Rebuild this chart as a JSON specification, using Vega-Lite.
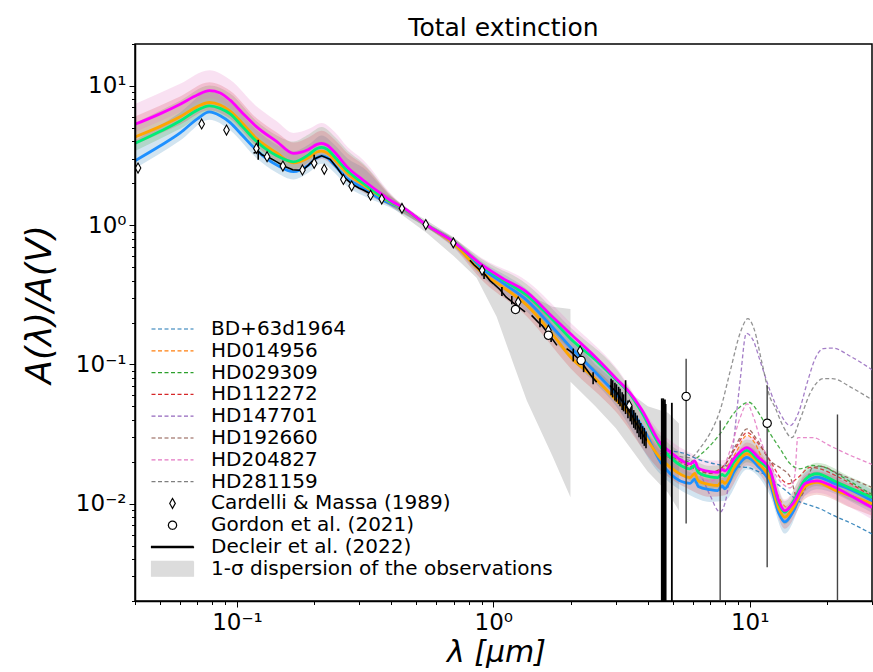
{
  "$schema": "https://vega.github.io/schema/vega-lite/v6.json",
  "width": 737,
  "height": 557,
  "autosize": {"type": "none"},
  "padding": {"left": 135, "top": 44, "right": 1, "bottom": 71},
  "background": "white",
  "title": {"text": "Total extinction", "font": "DejaVu Sans", "fontSize": 25, "fontWeight": "normal", "color": "black", "anchor": "middle", "offset": 5, "dy": 13},
  "config": {"font": "DejaVu Sans", "view": {"stroke": "black", "strokeWidth": 1.5}},
  "datasets": {
    "models": [
      {"lam": 0.04, "blue": 2.9, "orange": 4.3, "green": 3.87, "magenta": 5.3},
      {"lam": 0.05, "blue": 3.7, "orange": 5.1, "green": 4.7, "magenta": 6.3},
      {"lam": 0.06, "blue": 4.6, "orange": 6.0, "green": 5.6, "magenta": 7.4},
      {"lam": 0.07, "blue": 5.8, "orange": 7.1, "green": 6.7, "magenta": 8.6},
      {"lam": 0.078, "blue": 6.5, "orange": 7.6, "green": 7.2, "magenta": 9.25},
      {"lam": 0.086, "blue": 6.1, "orange": 7.3, "green": 6.9, "magenta": 8.9},
      {"lam": 0.094, "blue": 5.45, "orange": 6.6, "green": 6.3, "magenta": 7.9},
      {"lam": 0.105, "blue": 4.4, "orange": 5.4, "green": 5.1, "magenta": 6.4},
      {"lam": 0.119, "blue": 3.46, "orange": 4.2, "green": 4.0, "magenta": 5.1},
      {"lam": 0.143, "blue": 2.7, "orange": 3.3, "green": 3.15, "magenta": 3.98},
      {"lam": 0.166, "blue": 2.42, "orange": 2.8, "green": 2.85, "magenta": 3.28},
      {"lam": 0.19, "blue": 2.7, "orange": 3.05, "green": 3.2, "magenta": 3.5},
      {"lam": 0.205, "blue": 3.05, "orange": 3.35, "green": 3.55, "magenta": 3.8},
      {"lam": 0.214, "blue": 3.14, "orange": 3.4, "green": 3.62, "magenta": 3.87},
      {"lam": 0.225, "blue": 3.05, "orange": 3.3, "green": 3.5, "magenta": 3.75},
      {"lam": 0.24, "blue": 2.7, "orange": 2.95, "green": 3.1, "magenta": 3.35},
      {"lam": 0.27, "blue": 2.15, "orange": 2.35, "green": 2.45, "magenta": 2.6},
      {"lam": 0.31, "blue": 1.85, "orange": 1.95, "green": 2.0, "magenta": 2.11},
      {"lam": 0.35, "blue": 1.6, "orange": 1.68, "green": 1.7, "magenta": 1.78},
      {"lam": 0.4, "blue": 1.42, "orange": 1.45, "green": 1.46, "magenta": 1.49},
      {"lam": 0.45, "blue": 1.29, "orange": 1.3, "green": 1.31, "magenta": 1.32},
      {"lam": 0.55, "blue": 1.0, "orange": 1.0, "green": 1.0, "magenta": 1.0},
      {"lam": 0.7, "blue": 0.75, "orange": 0.74, "green": 0.76, "magenta": 0.76},
      {"lam": 0.9, "blue": 0.49, "orange": 0.46, "green": 0.51, "magenta": 0.52},
      {"lam": 1.1, "blue": 0.38, "orange": 0.355, "green": 0.4, "magenta": 0.41},
      {"lam": 1.35, "blue": 0.289, "orange": 0.266, "green": 0.314, "magenta": 0.331},
      {"lam": 1.7, "blue": 0.185, "orange": 0.165, "green": 0.21, "magenta": 0.22},
      {"lam": 2.0, "blue": 0.133, "orange": 0.113, "green": 0.153, "magenta": 0.166},
      {"lam": 2.5, "blue": 0.088, "orange": 0.079, "green": 0.108, "magenta": 0.113},
      {"lam": 3.0, "blue": 0.062, "orange": 0.056, "green": 0.078, "magenta": 0.08},
      {"lam": 3.4, "blue": 0.048, "orange": 0.044, "green": 0.062, "magenta": 0.063},
      {"lam": 3.8, "blue": 0.036, "orange": 0.033, "green": 0.045, "magenta": 0.047},
      {"lam": 4.5, "blue": 0.0198, "orange": 0.021, "green": 0.0255, "magenta": 0.027},
      {"lam": 4.9, "blue": 0.0164, "orange": 0.0182, "green": 0.0215, "magenta": 0.0235},
      {"lam": 5.85, "blue": 0.014, "orange": 0.0154, "green": 0.0178, "magenta": 0.0193},
      {"lam": 6.1, "blue": 0.015, "orange": 0.0165, "green": 0.0188, "magenta": 0.0203},
      {"lam": 6.3, "blue": 0.0133, "orange": 0.0146, "green": 0.0168, "magenta": 0.018},
      {"lam": 7.0, "blue": 0.0126, "orange": 0.0137, "green": 0.0156, "magenta": 0.017},
      {"lam": 7.5, "blue": 0.0124, "orange": 0.0135, "green": 0.0154, "magenta": 0.0168},
      {"lam": 7.8, "blue": 0.0134, "orange": 0.0145, "green": 0.0162, "magenta": 0.0176},
      {"lam": 8.0, "blue": 0.0128, "orange": 0.014, "green": 0.0158, "magenta": 0.0172},
      {"lam": 8.7, "blue": 0.017, "orange": 0.0183, "green": 0.02, "magenta": 0.0212},
      {"lam": 9.75, "blue": 0.0215, "orange": 0.0229, "green": 0.0241, "magenta": 0.0253},
      {"lam": 10.8, "blue": 0.0185, "orange": 0.0195, "green": 0.0205, "magenta": 0.0215},
      {"lam": 12.0, "blue": 0.014, "orange": 0.015, "green": 0.017, "magenta": 0.0175},
      {"lam": 13.0, "blue": 0.0085, "orange": 0.0092, "green": 0.01, "magenta": 0.0104},
      {"lam": 13.7, "blue": 0.0074, "orange": 0.008, "green": 0.0087, "magenta": 0.0089},
      {"lam": 14.8, "blue": 0.0088, "orange": 0.0094, "green": 0.0104, "magenta": 0.0101},
      {"lam": 16.5, "blue": 0.014, "orange": 0.0133, "green": 0.015, "magenta": 0.014},
      {"lam": 18.3, "blue": 0.0155, "orange": 0.0142, "green": 0.0164, "magenta": 0.0146},
      {"lam": 21.5, "blue": 0.0139, "orange": 0.0125, "green": 0.0145, "magenta": 0.0131},
      {"lam": 25, "blue": 0.0125, "orange": 0.0113, "green": 0.0128, "magenta": 0.0113},
      {"lam": 30, "blue": 0.0105, "orange": 0.01, "green": 0.0111, "magenta": 0.0094}
    ],
    "bands": [
      {"lam": 0.04, "bl": 2.55, "bh": 4.06, "ol": 3.78, "oh": 6.02, "gl": 3.41, "gh": 5.42, "ml": 4.66, "mh": 7.42},
      {"lam": 0.06, "bl": 4.05, "bh": 6.44, "ol": 5.28, "oh": 8.4, "gl": 4.93, "gh": 7.84, "ml": 6.51, "mh": 10.36},
      {"lam": 0.078, "bl": 5.72, "bh": 9.1, "ol": 6.69, "oh": 10.64, "gl": 6.34, "gh": 10.08, "ml": 8.14, "mh": 12.95},
      {"lam": 0.094, "bl": 4.8, "bh": 7.63, "ol": 5.81, "oh": 9.24, "gl": 5.54, "gh": 8.82, "ml": 6.95, "mh": 11.06},
      {"lam": 0.119, "bl": 3.04, "bh": 4.84, "ol": 3.7, "oh": 5.88, "gl": 3.52, "gh": 5.6, "ml": 4.49, "mh": 7.14},
      {"lam": 0.143, "bl": 2.38, "bh": 3.78, "ol": 2.9, "oh": 4.62, "gl": 2.77, "gh": 4.41, "ml": 3.5, "mh": 5.57},
      {"lam": 0.166, "bl": 2.13, "bh": 3.39, "ol": 2.46, "oh": 3.92, "gl": 2.51, "gh": 3.99, "ml": 2.89, "mh": 4.59},
      {"lam": 0.19, "bl": 2.38, "bh": 3.78, "ol": 2.68, "oh": 4.27, "gl": 2.82, "gh": 4.48, "ml": 3.08, "mh": 4.9},
      {"lam": 0.214, "bl": 2.76, "bh": 4.4, "ol": 2.99, "oh": 4.76, "gl": 3.19, "gh": 5.07, "ml": 3.41, "mh": 5.42},
      {"lam": 0.24, "bl": 2.38, "bh": 3.78, "ol": 2.6, "oh": 4.13, "gl": 2.73, "gh": 4.34, "ml": 2.95, "mh": 4.69},
      {"lam": 0.27, "bl": 1.89, "bh": 3.01, "ol": 2.07, "oh": 3.29, "gl": 2.16, "gh": 3.43, "ml": 2.29, "mh": 3.64},
      {"lam": 0.31, "bl": 1.63, "bh": 2.59, "ol": 1.72, "oh": 2.73, "gl": 1.76, "gh": 2.8, "ml": 1.86, "mh": 2.95},
      {"lam": 0.4, "bl": 1.33, "bh": 1.59, "ol": 1.36, "oh": 1.62, "gl": 1.37, "gh": 1.64, "ml": 1.4, "mh": 1.67},
      {"lam": 0.55, "bl": 0.96, "bh": 1.04, "ol": 0.96, "oh": 1.04, "gl": 0.96, "gh": 1.04, "ml": 0.96, "mh": 1.04},
      {"lam": 0.7, "bl": 0.7, "bh": 0.8, "ol": 0.69, "oh": 0.79, "gl": 0.71, "gh": 0.81, "ml": 0.71, "mh": 0.81},
      {"lam": 0.9, "bl": 0.43, "bh": 0.55, "ol": 0.405, "oh": 0.515, "gl": 0.449, "gh": 0.571, "ml": 0.458, "mh": 0.582},
      {"lam": 1.35, "bl": 0.24, "bh": 0.347, "ol": 0.221, "oh": 0.319, "gl": 0.261, "gh": 0.377, "ml": 0.275, "mh": 0.397},
      {"lam": 2.0, "bl": 0.11, "bh": 0.16, "ol": 0.094, "oh": 0.136, "gl": 0.127, "gh": 0.184, "ml": 0.138, "mh": 0.199},
      {"lam": 3.0, "bl": 0.0508, "bh": 0.0744, "ol": 0.0459, "oh": 0.0672, "gl": 0.064, "gh": 0.0936, "ml": 0.0656, "mh": 0.096},
      {"lam": 4.5, "bl": 0.0162, "bh": 0.0238, "ol": 0.0172, "oh": 0.0252, "gl": 0.0209, "gh": 0.0306, "ml": 0.0221, "mh": 0.0324},
      {"lam": 5.85, "bl": 0.0115, "bh": 0.0168, "ol": 0.0126, "oh": 0.0185, "gl": 0.0146, "gh": 0.0214, "ml": 0.0158, "mh": 0.0232},
      {"lam": 7.0, "bl": 0.0103, "bh": 0.0151, "ol": 0.0112, "oh": 0.0164, "gl": 0.0128, "gh": 0.0187, "ml": 0.0139, "mh": 0.0204},
      {"lam": 8.0, "bl": 0.0105, "bh": 0.0154, "ol": 0.0115, "oh": 0.0168, "gl": 0.013, "gh": 0.019, "ml": 0.0141, "mh": 0.0206},
      {"lam": 9.75, "bl": 0.0176, "bh": 0.0258, "ol": 0.0188, "oh": 0.0275, "gl": 0.0198, "gh": 0.0289, "ml": 0.0207, "mh": 0.0304},
      {"lam": 12.0, "bl": 0.0115, "bh": 0.0168, "ol": 0.0123, "oh": 0.018, "gl": 0.0139, "gh": 0.0204, "ml": 0.0144, "mh": 0.021},
      {"lam": 13.7, "bl": 0.0061, "bh": 0.0089, "ol": 0.0066, "oh": 0.0096, "gl": 0.0071, "gh": 0.0104, "ml": 0.0073, "mh": 0.0107},
      {"lam": 16.5, "bl": 0.0115, "bh": 0.0168, "ol": 0.0109, "oh": 0.016, "gl": 0.0123, "gh": 0.018, "ml": 0.0115, "mh": 0.0168},
      {"lam": 18.3, "bl": 0.0127, "bh": 0.0186, "ol": 0.0116, "oh": 0.017, "gl": 0.0134, "gh": 0.0197, "ml": 0.012, "mh": 0.0175},
      {"lam": 25, "bl": 0.0103, "bh": 0.015, "ol": 0.0093, "oh": 0.0136, "gl": 0.0105, "gh": 0.0154, "ml": 0.0093, "mh": 0.0136},
      {"lam": 30, "bl": 0.0086, "bh": 0.0126, "ol": 0.0082, "oh": 0.012, "gl": 0.0091, "gh": 0.0133, "ml": 0.0077, "mh": 0.0113}
    ],
    "gray": [
      {"lam": 0.35, "lo": 1.58, "hi": 1.8},
      {"lam": 0.4, "lo": 1.35, "hi": 1.6},
      {"lam": 0.5, "lo": 1.0, "hi": 1.2},
      {"lam": 0.55, "lo": 0.88, "hi": 1.08},
      {"lam": 0.7, "lo": 0.6, "hi": 0.82},
      {"lam": 0.86, "lo": 0.42, "hi": 0.58},
      {"lam": 1.03, "lo": 0.22, "hi": 0.42},
      {"lam": 1.2, "lo": 0.1, "hi": 0.35},
      {"lam": 1.35, "lo": 0.055, "hi": 0.32},
      {"lam": 1.7, "lo": 0.022, "hi": 0.26},
      {"lam": 1.999, "lo": 0.0111, "hi": 0.25},
      {"lam": 2.0, "lo": 0.075, "hi": 0.16},
      {"lam": 2.5, "lo": 0.05, "hi": 0.1},
      {"lam": 3.0, "lo": 0.035, "hi": 0.075},
      {"lam": 4.0, "lo": 0.017, "hi": 0.05},
      {"lam": 4.8, "lo": 0.012, "hi": 0.045},
      {"lam": 5.3, "lo": 0.0089, "hi": 0.0376}
    ],
    "stars": [
      {"s": "BD+63d1964", "lam": 4.5, "v": 0.024}, {"s": "BD+63d1964", "lam": 5.35, "v": 0.0234}, {"s": "BD+63d1964", "lam": 6.5, "v": 0.0204}, {"s": "BD+63d1964", "lam": 7.66, "v": 0.019}, {"s": "BD+63d1964", "lam": 8.5, "v": 0.0185}, {"s": "BD+63d1964", "lam": 9.75, "v": 0.0182}, {"s": "BD+63d1964", "lam": 10.8, "v": 0.017}, {"s": "BD+63d1964", "lam": 11.7, "v": 0.0159}, {"s": "BD+63d1964", "lam": 12.7, "v": 0.014}, {"s": "BD+63d1964", "lam": 14, "v": 0.0122}, {"s": "BD+63d1964", "lam": 15.4, "v": 0.0105}, {"s": "BD+63d1964", "lam": 17, "v": 0.0098}, {"s": "BD+63d1964", "lam": 18.8, "v": 0.0092}, {"s": "BD+63d1964", "lam": 21, "v": 0.0083}, {"s": "BD+63d1964", "lam": 25, "v": 0.0072}, {"s": "BD+63d1964", "lam": 30.3, "v": 0.006},
      {"s": "HD014956", "lam": 4.5, "v": 0.023}, {"s": "HD014956", "lam": 5.85, "v": 0.019}, {"s": "HD014956", "lam": 7.0, "v": 0.0165}, {"s": "HD014956", "lam": 8.0, "v": 0.018}, {"s": "HD014956", "lam": 8.8, "v": 0.023}, {"s": "HD014956", "lam": 9.77, "v": 0.031}, {"s": "HD014956", "lam": 10.5, "v": 0.027}, {"s": "HD014956", "lam": 11.3, "v": 0.02}, {"s": "HD014956", "lam": 12.2, "v": 0.0145}, {"s": "HD014956", "lam": 12.8, "v": 0.0118}, {"s": "HD014956", "lam": 14.0, "v": 0.0094}, {"s": "HD014956", "lam": 15.5, "v": 0.011}, {"s": "HD014956", "lam": 16.5, "v": 0.0133}, {"s": "HD014956", "lam": 18.3, "v": 0.0143}, {"s": "HD014956", "lam": 21.5, "v": 0.0127}, {"s": "HD014956", "lam": 25, "v": 0.0114}, {"s": "HD014956", "lam": 30.3, "v": 0.01},
      {"s": "HD029309", "lam": 4.5, "v": 0.024}, {"s": "HD029309", "lam": 5.85, "v": 0.02}, {"s": "HD029309", "lam": 6.5, "v": 0.0229}, {"s": "HD029309", "lam": 7.66, "v": 0.0317}, {"s": "HD029309", "lam": 8.8, "v": 0.046}, {"s": "HD029309", "lam": 9.9, "v": 0.0535}, {"s": "HD029309", "lam": 11, "v": 0.043}, {"s": "HD029309", "lam": 12, "v": 0.032}, {"s": "HD029309", "lam": 13.1, "v": 0.025}, {"s": "HD029309", "lam": 14.4, "v": 0.0193}, {"s": "HD029309", "lam": 15.7, "v": 0.0178}, {"s": "HD029309", "lam": 17.6, "v": 0.0188}, {"s": "HD029309", "lam": 19.5, "v": 0.0183}, {"s": "HD029309", "lam": 22, "v": 0.0163}, {"s": "HD029309", "lam": 25, "v": 0.0142}, {"s": "HD029309", "lam": 30.3, "v": 0.0115},
      {"s": "HD112272", "lam": 4.5, "v": 0.023}, {"s": "HD112272", "lam": 5.85, "v": 0.0185}, {"s": "HD112272", "lam": 7.0, "v": 0.0168}, {"s": "HD112272", "lam": 8.0, "v": 0.019}, {"s": "HD112272", "lam": 8.8, "v": 0.025}, {"s": "HD112272", "lam": 9.77, "v": 0.0324}, {"s": "HD112272", "lam": 10.8, "v": 0.027}, {"s": "HD112272", "lam": 12, "v": 0.0204}, {"s": "HD112272", "lam": 13.3, "v": 0.015}, {"s": "HD112272", "lam": 14.2, "v": 0.0139}, {"s": "HD112272", "lam": 15.5, "v": 0.0155}, {"s": "HD112272", "lam": 17.2, "v": 0.0182}, {"s": "HD112272", "lam": 18.8, "v": 0.0178}, {"s": "HD112272", "lam": 21.5, "v": 0.016}, {"s": "HD112272", "lam": 25, "v": 0.0138}, {"s": "HD112272", "lam": 30.3, "v": 0.0111},
      {"s": "HD147701", "lam": 4.5, "v": 0.023}, {"s": "HD147701", "lam": 5.35, "v": 0.021}, {"s": "HD147701", "lam": 5.85, "v": 0.0204}, {"s": "HD147701", "lam": 6.5, "v": 0.0155}, {"s": "HD147701", "lam": 7.0, "v": 0.0115}, {"s": "HD147701", "lam": 7.66, "v": 0.0087}, {"s": "HD147701", "lam": 8.1, "v": 0.011}, {"s": "HD147701", "lam": 8.6, "v": 0.025}, {"s": "HD147701", "lam": 9.2, "v": 0.08}, {"s": "HD147701", "lam": 9.7, "v": 0.167}, {"s": "HD147701", "lam": 10.3, "v": 0.15}, {"s": "HD147701", "lam": 11.0, "v": 0.105}, {"s": "HD147701", "lam": 12.0, "v": 0.065}, {"s": "HD147701", "lam": 13.1, "v": 0.045}, {"s": "HD147701", "lam": 14.4, "v": 0.0364}, {"s": "HD147701", "lam": 15.5, "v": 0.045}, {"s": "HD147701", "lam": 16.8, "v": 0.075}, {"s": "HD147701", "lam": 18.0, "v": 0.11}, {"s": "HD147701", "lam": 19.4, "v": 0.13}, {"s": "HD147701", "lam": 21, "v": 0.131}, {"s": "HD147701", "lam": 25, "v": 0.113}, {"s": "HD147701", "lam": 30.3, "v": 0.0905},
      {"s": "HD192660", "lam": 4.5, "v": 0.023}, {"s": "HD192660", "lam": 5.85, "v": 0.0185}, {"s": "HD192660", "lam": 7.0, "v": 0.0165}, {"s": "HD192660", "lam": 8.0, "v": 0.019}, {"s": "HD192660", "lam": 8.8, "v": 0.026}, {"s": "HD192660", "lam": 9.77, "v": 0.0344}, {"s": "HD192660", "lam": 10.8, "v": 0.028}, {"s": "HD192660", "lam": 12, "v": 0.0204}, {"s": "HD192660", "lam": 13.2, "v": 0.018}, {"s": "HD192660", "lam": 14.4, "v": 0.0155}, {"s": "HD192660", "lam": 15.4, "v": 0.0108}, {"s": "HD192660", "lam": 16.2, "v": 0.012}, {"s": "HD192660", "lam": 17.6, "v": 0.0182}, {"s": "HD192660", "lam": 19, "v": 0.0185}, {"s": "HD192660", "lam": 22, "v": 0.0165}, {"s": "HD192660", "lam": 25, "v": 0.015}, {"s": "HD192660", "lam": 30.3, "v": 0.013},
      {"s": "HD204827", "lam": 4.5, "v": 0.023}, {"s": "HD204827", "lam": 5.85, "v": 0.018}, {"s": "HD204827", "lam": 7.0, "v": 0.0145}, {"s": "HD204827", "lam": 7.8, "v": 0.0173}, {"s": "HD204827", "lam": 8.5, "v": 0.026}, {"s": "HD204827", "lam": 9.2, "v": 0.042}, {"s": "HD204827", "lam": 9.77, "v": 0.052}, {"s": "HD204827", "lam": 10.3, "v": 0.043}, {"s": "HD204827", "lam": 11, "v": 0.029}, {"s": "HD204827", "lam": 11.7, "v": 0.0214}, {"s": "HD204827", "lam": 13.1, "v": 0.0146}, {"s": "HD204827", "lam": 14.4, "v": 0.013}, {"s": "HD204827", "lam": 15.0, "v": 0.016}, {"s": "HD204827", "lam": 15.4, "v": 0.0298}, {"s": "HD204827", "lam": 17.6, "v": 0.0298}, {"s": "HD204827", "lam": 20.6, "v": 0.026}, {"s": "HD204827", "lam": 25, "v": 0.022}, {"s": "HD204827", "lam": 30.3, "v": 0.019},
      {"s": "HD281159", "lam": 4.5, "v": 0.024}, {"s": "HD281159", "lam": 5.85, "v": 0.0214}, {"s": "HD281159", "lam": 6.5, "v": 0.026}, {"s": "HD281159", "lam": 7.0, "v": 0.032}, {"s": "HD281159", "lam": 7.66, "v": 0.0467}, {"s": "HD281159", "lam": 8.4, "v": 0.09}, {"s": "HD281159", "lam": 9.2, "v": 0.17}, {"s": "HD281159", "lam": 9.84, "v": 0.213}, {"s": "HD281159", "lam": 10.4, "v": 0.18}, {"s": "HD281159", "lam": 11.2, "v": 0.1}, {"s": "HD281159", "lam": 12.0, "v": 0.058}, {"s": "HD281159", "lam": 12.5, "v": 0.05}, {"s": "HD281159", "lam": 13.5, "v": 0.036}, {"s": "HD281159", "lam": 14.6, "v": 0.0298}, {"s": "HD281159", "lam": 15.7, "v": 0.04}, {"s": "HD281159", "lam": 17.2, "v": 0.062}, {"s": "HD281159", "lam": 19.4, "v": 0.079}, {"s": "HD281159", "lam": 21, "v": 0.079}, {"s": "HD281159", "lam": 25, "v": 0.068}, {"s": "HD281159", "lam": 30.3, "v": 0.055}
    ],
    "decleir": [
      {"seg": 0, "lam": 0.116, "v": 3.28}, {"seg": 0, "lam": 0.121, "v": 3.4}, {"seg": 0, "lam": 0.125, "v": 3.2}, {"seg": 0, "lam": 0.13, "v": 3.1}, {"seg": 0, "lam": 0.135, "v": 3.02}, {"seg": 0, "lam": 0.143, "v": 2.85}, {"seg": 0, "lam": 0.152, "v": 2.66}, {"seg": 0, "lam": 0.165, "v": 2.5}, {"seg": 0, "lam": 0.175, "v": 2.48}, {"seg": 0, "lam": 0.182, "v": 2.52}, {"seg": 0, "lam": 0.19, "v": 2.7}, {"seg": 0, "lam": 0.201, "v": 3.0}, {"seg": 0, "lam": 0.214, "v": 3.15}, {"seg": 0, "lam": 0.231, "v": 2.97}, {"seg": 0, "lam": 0.245, "v": 2.6}, {"seg": 0, "lam": 0.26, "v": 2.23}, {"seg": 0, "lam": 0.28, "v": 1.98}, {"seg": 0, "lam": 0.3, "v": 1.84}, {"seg": 0, "lam": 0.311, "v": 1.79}, {"seg": 0, "lam": 0.33, "v": 1.69},
      {"seg": 1, "lam": 0.81, "v": 0.56}, {"seg": 1, "lam": 0.84, "v": 0.52}, {"seg": 1, "lam": 0.886, "v": 0.475}, {"seg": 1, "lam": 0.93, "v": 0.44}, {"seg": 1, "lam": 0.97, "v": 0.4}, {"seg": 1, "lam": 1.0, "v": 0.381}, {"seg": 1, "lam": 1.06, "v": 0.345}, {"seg": 1, "lam": 1.12, "v": 0.305}, {"seg": 1, "lam": 1.2, "v": 0.276}, {"seg": 1, "lam": 1.27, "v": 0.255}, {"seg": 1, "lam": 1.33, "v": 0.238},
      {"seg": 2, "lam": 1.41, "v": 0.225}, {"seg": 2, "lam": 1.5, "v": 0.2}, {"seg": 2, "lam": 1.55, "v": 0.19}, {"seg": 2, "lam": 1.6, "v": 0.176}, {"seg": 2, "lam": 1.65, "v": 0.165}, {"seg": 2, "lam": 1.7, "v": 0.152}, {"seg": 2, "lam": 1.77, "v": 0.137},
      {"seg": 3, "lam": 1.93, "v": 0.13}, {"seg": 3, "lam": 2.0, "v": 0.124}, {"seg": 3, "lam": 2.1, "v": 0.114}, {"seg": 3, "lam": 2.18, "v": 0.107}, {"seg": 3, "lam": 2.3, "v": 0.093}, {"seg": 3, "lam": 2.42, "v": 0.082}, {"seg": 3, "lam": 2.53, "v": 0.0746},
      {"seg": 4, "lam": 2.85, "v": 0.0706}, {"seg": 4, "lam": 2.95, "v": 0.066}, {"seg": 4, "lam": 3.05, "v": 0.062}, {"seg": 4, "lam": 3.15, "v": 0.056}, {"seg": 4, "lam": 3.25, "v": 0.052}, {"seg": 4, "lam": 3.38, "v": 0.0466}, {"seg": 4, "lam": 3.5, "v": 0.042}, {"seg": 4, "lam": 3.6, "v": 0.038}, {"seg": 4, "lam": 3.7, "v": 0.035}, {"seg": 4, "lam": 3.8, "v": 0.032}, {"seg": 4, "lam": 3.96, "v": 0.0284}
    ],
    "derr": [
      {"lam": 0.121, "lo": 2.95, "hi": 4.1}, {"lam": 0.2, "lo": 2.8, "hi": 3.2},
      {"lam": 0.92, "lo": 0.41, "hi": 0.47}, {"lam": 1.08, "lo": 0.31, "hi": 0.36}, {"lam": 1.18, "lo": 0.27, "hi": 0.31},
      {"lam": 1.52, "lo": 0.185, "hi": 0.215}, {"lam": 1.68, "lo": 0.145, "hi": 0.17},
      {"lam": 2.05, "lo": 0.105, "hi": 0.13}, {"lam": 2.25, "lo": 0.088, "hi": 0.105}, {"lam": 2.45, "lo": 0.072, "hi": 0.088},
      {"lam": 2.88, "lo": 0.06, "hi": 0.079}, {"lam": 2.92, "lo": 0.058, "hi": 0.077}, {"lam": 2.98, "lo": 0.055, "hi": 0.074}, {"lam": 3.02, "lo": 0.054, "hi": 0.072}, {"lam": 3.08, "lo": 0.052, "hi": 0.069}, {"lam": 3.12, "lo": 0.05, "hi": 0.067}, {"lam": 3.18, "lo": 0.047, "hi": 0.063}, {"lam": 3.22, "lo": 0.046, "hi": 0.061}, {"lam": 3.28, "lo": 0.044, "hi": 0.077}, {"lam": 3.35, "lo": 0.041, "hi": 0.055}, {"lam": 3.42, "lo": 0.039, "hi": 0.052}, {"lam": 3.47, "lo": 0.037, "hi": 0.05}, {"lam": 3.53, "lo": 0.035, "hi": 0.047}, {"lam": 3.58, "lo": 0.034, "hi": 0.045}, {"lam": 3.64, "lo": 0.032, "hi": 0.043}, {"lam": 3.7, "lo": 0.03, "hi": 0.04}, {"lam": 3.76, "lo": 0.029, "hi": 0.038}, {"lam": 3.82, "lo": 0.027, "hi": 0.036}, {"lam": 3.88, "lo": 0.026, "hi": 0.035}, {"lam": 3.94, "lo": 0.025, "hi": 0.033}
    ],
    "dnoise": [
      {"lam": 4.54, "lo": 0.001, "hi": 0.057}, {"lam": 4.57, "lo": 0.001, "hi": 0.055}, {"lam": 4.6, "lo": 0.001, "hi": 0.057}, {"lam": 4.63, "lo": 0.001, "hi": 0.05}, {"lam": 4.67, "lo": 0.001, "hi": 0.056}, {"lam": 4.7, "lo": 0.001, "hi": 0.052}, {"lam": 4.97, "lo": 0.001, "hi": 0.053}
    ],
    "g21err": [
      {"lam": 5.65, "lo": 0.0072, "hi": 0.11}, {"lam": 7.67, "lo": 0.001, "hi": 0.0395}, {"lam": 11.7, "lo": 0.0035, "hi": 0.0706}, {"lam": 22.0, "lo": 0.001, "hi": 0.0437}
    ],
    "obs": [
      {"s": "Cardelli & Massa (1989)", "lam": 0.0411, "v": 2.57}, {"s": "Cardelli & Massa (1989)", "lam": 0.0728, "v": 5.33}, {"s": "Cardelli & Massa (1989)", "lam": 0.091, "v": 4.82}, {"s": "Cardelli & Massa (1989)", "lam": 0.119, "v": 3.56}, {"s": "Cardelli & Massa (1989)", "lam": 0.131, "v": 3.1}, {"s": "Cardelli & Massa (1989)", "lam": 0.151, "v": 2.66}, {"s": "Cardelli & Massa (1989)", "lam": 0.18, "v": 2.49}, {"s": "Cardelli & Massa (1989)", "lam": 0.2, "v": 2.78}, {"s": "Cardelli & Massa (1989)", "lam": 0.219, "v": 2.52}, {"s": "Cardelli & Massa (1989)", "lam": 0.26, "v": 2.13}, {"s": "Cardelli & Massa (1989)", "lam": 0.28, "v": 1.91}, {"s": "Cardelli & Massa (1989)", "lam": 0.332, "v": 1.64}, {"s": "Cardelli & Massa (1989)", "lam": 0.367, "v": 1.54}, {"s": "Cardelli & Massa (1989)", "lam": 0.44, "v": 1.32}, {"s": "Cardelli & Massa (1989)", "lam": 0.545, "v": 1.01}, {"s": "Cardelli & Massa (1989)", "lam": 0.698, "v": 0.746}, {"s": "Cardelli & Massa (1989)", "lam": 0.904, "v": 0.475}, {"s": "Cardelli & Massa (1989)", "lam": 1.25, "v": 0.281}, {"s": "Cardelli & Massa (1989)", "lam": 1.64, "v": 0.176}, {"s": "Cardelli & Massa (1989)", "lam": 2.18, "v": 0.125}, {"s": "Cardelli & Massa (1989)", "lam": 3.39, "v": 0.0507},
      {"s": "Gordon et al. (2021)", "lam": 1.22, "v": 0.248}, {"s": "Gordon et al. (2021)", "lam": 1.64, "v": 0.162}, {"s": "Gordon et al. (2021)", "lam": 2.2, "v": 0.107}, {"s": "Gordon et al. (2021)", "lam": 5.65, "v": 0.0589}, {"s": "Gordon et al. (2021)", "lam": 11.7, "v": 0.0378}
    ]
  },
  "layer": [
    {
      "data": {"name": "gray"},
      "mark": {"type": "area", "fill": "#dcdcdc", "clip": true},
      "encoding": {
        "x": {"field": "lam", "type": "quantitative", "title": "λ [μm]", "scale": {"type": "log", "domain": [0.04, 30], "nice": false},
          "axis": {"values": [0.04, 0.05, 0.06, 0.07, 0.08, 0.09, 0.1, 0.2, 0.3, 0.4, 0.5, 0.6, 0.7, 0.8, 0.9, 1, 2, 3, 4, 5, 6, 7, 8, 9, 10, 20, 30],
            "labelExpr": "datum.value == 0.1 ? '10⁻¹' : datum.value == 1 ? '10⁰' : datum.value == 10 ? '10¹' : ''",
            "tickSize": {"condition": {"test": "datum.value == 0.1 || datum.value == 1 || datum.value == 10", "value": 6}, "value": 3.5},
            "tickColor": "black", "tickWidth": 1, "labelFontSize": 23, "labelFont": "DejaVu Sans", "labelColor": "black", "labelPadding": 4,
            "labelOverlap": false, "labelFlush": false, "grid": false, "domainColor": "black", "domainWidth": 1.5, "zindex": 1,
            "titleFont": "DejaVu Sans", "titleFontSize": 30, "titleFontStyle": "italic", "titleFontWeight": "normal", "titleColor": "black",
            "titleX": 361, "titleY": 60, "titleBaseline": "alphabetic", "titleAlign": "center"}},
        "y": {"field": "lo", "type": "quantitative", "title": "A(λ)/A(V)", "scale": {"type": "log", "domain": [0.002, 20], "nice": false},
          "axis": {"values": [0.002, 0.003, 0.004, 0.005, 0.006, 0.007, 0.008, 0.009, 0.01, 0.02, 0.03, 0.04, 0.05, 0.06, 0.07, 0.08, 0.09, 0.1, 0.2, 0.3, 0.4, 0.5, 0.6, 0.7, 0.8, 0.9, 1, 2, 3, 4, 5, 6, 7, 8, 9, 10, 20],
            "labelExpr": "datum.value == 0.01 ? '10⁻²' : datum.value == 0.1 ? '10⁻¹' : datum.value == 1 ? '10⁰' : datum.value == 10 ? '10¹' : ''",
            "tickSize": {"condition": {"test": "datum.value == 0.01 || datum.value == 0.1 || datum.value == 1 || datum.value == 10", "value": 6}, "value": 3.5},
            "tickColor": "black", "tickWidth": 1, "labelFontSize": 23, "labelFont": "DejaVu Sans", "labelColor": "black", "labelPadding": 3,
            "labelOverlap": false, "labelFlush": false, "grid": false, "domainColor": "black", "domainWidth": 1.5, "zindex": 1,
            "titleFont": "DejaVu Sans", "titleFontSize": 35, "titleFontStyle": "italic", "titleFontWeight": "normal", "titleColor": "black",
            "titleX": -85, "titleY": 260, "titleAngle": -90, "titleBaseline": "alphabetic", "titleAlign": "center"}},
        "y2": {"field": "hi"}
      }
    },
    {
      "data": {"name": "bands"},
      "mark": {"type": "area", "fill": "#1f77b4", "opacity": 0.2, "interpolate": "monotone", "clip": true},
      "encoding": {
        "x": {"field": "lam", "type": "quantitative", "title": "λ [μm]", "scale": {"type": "log", "domain": [0.04, 30], "nice": false}},
        "y": {"field": "bl", "type": "quantitative", "title": "A(λ)/A(V)", "scale": {"type": "log", "domain": [0.002, 20], "nice": false}},
        "y2": {"field": "bh"}
      }
    },
    {
      "data": {"name": "bands"},
      "mark": {"type": "area", "fill": "#2ca02c", "opacity": 0.2, "interpolate": "monotone", "clip": true},
      "encoding": {
        "x": {"field": "lam", "type": "quantitative", "title": "λ [μm]", "scale": {"type": "log", "domain": [0.04, 30], "nice": false}},
        "y": {"field": "gl", "type": "quantitative", "title": "A(λ)/A(V)", "scale": {"type": "log", "domain": [0.002, 20], "nice": false}},
        "y2": {"field": "gh"}
      }
    },
    {
      "data": {"name": "bands"},
      "mark": {"type": "area", "fill": "#d62728", "opacity": 0.2, "interpolate": "monotone", "clip": true},
      "encoding": {
        "x": {"field": "lam", "type": "quantitative", "title": "λ [μm]", "scale": {"type": "log", "domain": [0.04, 30], "nice": false}},
        "y": {"field": "ol", "type": "quantitative", "title": "A(λ)/A(V)", "scale": {"type": "log", "domain": [0.002, 20], "nice": false}},
        "y2": {"field": "oh"}
      }
    },
    {
      "data": {"name": "bands"},
      "mark": {"type": "area", "fill": "#e377c2", "opacity": 0.22, "interpolate": "monotone", "clip": true},
      "encoding": {
        "x": {"field": "lam", "type": "quantitative", "title": "λ [μm]", "scale": {"type": "log", "domain": [0.04, 30], "nice": false}},
        "y": {"field": "ml", "type": "quantitative", "title": "A(λ)/A(V)", "scale": {"type": "log", "domain": [0.002, 20], "nice": false}},
        "y2": {"field": "mh"}
      }
    },
    {
      "data": {"name": "stars"},
      "mark": {"type": "line", "strokeWidth": 1.3, "opacity": 0.85, "interpolate": "monotone", "clip": true},
      "encoding": {
        "x": {"field": "lam", "type": "quantitative", "title": "λ [μm]", "scale": {"type": "log", "domain": [0.04, 30], "nice": false}},
        "y": {"field": "v", "type": "quantitative", "title": "A(λ)/A(V)", "scale": {"type": "log", "domain": [0.002, 20], "nice": false}},
        "stroke": {"field": "s", "type": "nominal",
          "scale": {"domain": ["BD+63d1964", "HD014956", "HD029309", "HD112272", "HD147701", "HD192660", "HD204827", "HD281159", "Cardelli & Massa (1989)", "Gordon et al. (2021)", "Decleir et al. (2022)", "1-σ dispersion of the observations"],
            "range": ["#1f77b4", "#ff7f0e", "#2ca02c", "#d62728", "#9467bd", "#8c564b", "#e377c2", "#7f7f7f", "black", "black", "black", "#dcdcdc"]},
          "legend": {"orient": "none", "legendX": 27.5, "legendY": 275, "title": null, "padding": 0, "labelFontSize": 20, "labelFont": "DejaVu Sans", "labelColor": "black", "labelLimit": 600,
            "symbolSize": 196, "rowPadding": 1.8, "labelOffset": 28.5, "symbolStrokeWidth": 1.2, "symbolOpacity": 1}},
        "strokeDash": {"field": "s", "type": "nominal",
          "scale": {"domain": ["BD+63d1964", "HD014956", "HD029309", "HD112272", "HD147701", "HD192660", "HD204827", "HD281159", "Cardelli & Massa (1989)", "Gordon et al. (2021)", "Decleir et al. (2022)", "1-σ dispersion of the observations"],
            "range": [[4, 2.5], [4, 2.5], [4, 2.5], [4, 2.5], [4, 2.5], [4, 2.5], [4, 2.5], [4, 2.5], [1, 0], [1, 0], [1, 0], [1, 0]]},
          "legend": {"orient": "none", "legendX": 27.5, "legendY": 275, "title": null, "padding": 0, "labelFontSize": 20, "labelFont": "DejaVu Sans", "labelColor": "black", "labelLimit": 600,
            "symbolSize": 196, "rowPadding": 1.8, "labelOffset": 28.5, "symbolStrokeWidth": 1.2, "symbolOpacity": 1}}
      }
    },
    {
      "data": {"name": "models"},
      "transform": [{"fold": ["blue", "orange", "green", "magenta"], "as": ["model", "v"]}],
      "mark": {"type": "line", "strokeWidth": 2.8, "interpolate": "monotone", "clip": true},
      "encoding": {
        "x": {"field": "lam", "type": "quantitative", "title": "λ [μm]", "scale": {"type": "log", "domain": [0.04, 30], "nice": false}},
        "y": {"field": "v", "type": "quantitative", "title": "A(λ)/A(V)", "scale": {"type": "log", "domain": [0.002, 20], "nice": false}},
        "color": {"field": "model", "type": "nominal", "scale": {"domain": ["blue", "orange", "green", "magenta"], "range": ["#1e90ff", "#ffa500", "#00ee76", "#ff00ff"]}, "legend": null}
      }
    },
    {
      "data": {"name": "decleir"},
      "mark": {"type": "line", "color": "black", "strokeWidth": 1.6, "clip": true},
      "encoding": {
        "x": {"field": "lam", "type": "quantitative", "title": "λ [μm]", "scale": {"type": "log", "domain": [0.04, 30], "nice": false}},
        "y": {"field": "v", "type": "quantitative", "title": "A(λ)/A(V)", "scale": {"type": "log", "domain": [0.002, 20], "nice": false}},
        "detail": {"field": "seg", "type": "nominal"}
      }
    },
    {
      "data": {"name": "derr"},
      "mark": {"type": "rule", "color": "black", "strokeWidth": 1.6, "clip": true},
      "encoding": {
        "x": {"field": "lam", "type": "quantitative", "title": "λ [μm]", "scale": {"type": "log", "domain": [0.04, 30], "nice": false}},
        "y": {"field": "lo", "type": "quantitative", "title": "A(λ)/A(V)", "scale": {"type": "log", "domain": [0.002, 20], "nice": false}},
        "y2": {"field": "hi"}
      }
    },
    {
      "data": {"name": "dnoise"},
      "mark": {"type": "rule", "color": "black", "strokeWidth": 1.8, "clip": true},
      "encoding": {
        "x": {"field": "lam", "type": "quantitative", "title": "λ [μm]", "scale": {"type": "log", "domain": [0.04, 30], "nice": false}},
        "y": {"field": "lo", "type": "quantitative", "title": "A(λ)/A(V)", "scale": {"type": "log", "domain": [0.002, 20], "nice": false}},
        "y2": {"field": "hi"}
      }
    },
    {
      "data": {"name": "g21err"},
      "mark": {"type": "rule", "color": "#444444", "strokeWidth": 1.4, "clip": true},
      "encoding": {
        "x": {"field": "lam", "type": "quantitative", "title": "λ [μm]", "scale": {"type": "log", "domain": [0.04, 30], "nice": false}},
        "y": {"field": "lo", "type": "quantitative", "title": "A(λ)/A(V)", "scale": {"type": "log", "domain": [0.002, 20], "nice": false}},
        "y2": {"field": "hi"}
      }
    },
    {
      "data": {"name": "obs"},
      "mark": {"type": "point", "size": 196, "filled": true, "strokeWidth": 1.1, "opacity": 1, "clip": true},
      "encoding": {
        "x": {"field": "lam", "type": "quantitative", "title": "λ [μm]", "scale": {"type": "log", "domain": [0.04, 30], "nice": false}},
        "y": {"field": "v", "type": "quantitative", "title": "A(λ)/A(V)", "scale": {"type": "log", "domain": [0.002, 20], "nice": false}},
        "stroke": {"field": "s", "type": "nominal",
          "legend": {"orient": "none", "legendX": 27.5, "legendY": 275, "title": null, "padding": 0, "labelFontSize": 20, "labelFont": "DejaVu Sans", "labelColor": "black", "labelLimit": 600,
            "symbolSize": 196, "rowPadding": 1.8, "labelOffset": 28.5, "symbolStrokeWidth": 1.2, "symbolOpacity": 1}},
        "shape": {"field": "s", "type": "nominal",
          "scale": {"domain": ["BD+63d1964", "HD014956", "HD029309", "HD112272", "HD147701", "HD192660", "HD204827", "HD281159", "Cardelli & Massa (1989)", "Gordon et al. (2021)", "Decleir et al. (2022)", "1-σ dispersion of the observations"],
            "range": ["M-3,0H3", "M-3,0H3", "M-3,0H3", "M-3,0H3", "M-3,0H3", "M-3,0H3", "M-3,0H3", "M-3,0H3",
              "M0,-0.714L0.4,0L0,0.714L-0.4,0Z",
              "M0.6,0L0.52,0.3L0.3,0.52L0,0.6L-0.3,0.52L-0.52,0.3L-0.6,0L-0.52,-0.3L-0.3,-0.52L0,-0.6L0.3,-0.52L0.52,-0.3Z",
              "M-3,-0.08H3V0.08H-3Z",
              "M-3,-1.05H3V1.05H-3Z"]},
          "legend": {"orient": "none", "legendX": 27.5, "legendY": 275, "title": null, "padding": 0, "labelFontSize": 20, "labelFont": "DejaVu Sans", "labelColor": "black", "labelLimit": 600,
            "symbolSize": 196, "rowPadding": 1.8, "labelOffset": 28.5, "symbolStrokeWidth": 1.2, "symbolOpacity": 1}},
        "fill": {"field": "s", "type": "nominal",
          "scale": {"domain": ["BD+63d1964", "HD014956", "HD029309", "HD112272", "HD147701", "HD192660", "HD204827", "HD281159", "Cardelli & Massa (1989)", "Gordon et al. (2021)", "Decleir et al. (2022)", "1-σ dispersion of the observations"],
            "range": ["transparent", "transparent", "transparent", "transparent", "transparent", "transparent", "transparent", "transparent", "white", "white", "black", "#dcdcdc"]},
          "legend": {"orient": "none", "legendX": 27.5, "legendY": 275, "title": null, "padding": 0, "labelFontSize": 20, "labelFont": "DejaVu Sans", "labelColor": "black", "labelLimit": 600,
            "symbolSize": 196, "rowPadding": 1.8, "labelOffset": 28.5, "symbolStrokeWidth": 1.2, "symbolOpacity": 1}}
      }
    }
  ]
}
